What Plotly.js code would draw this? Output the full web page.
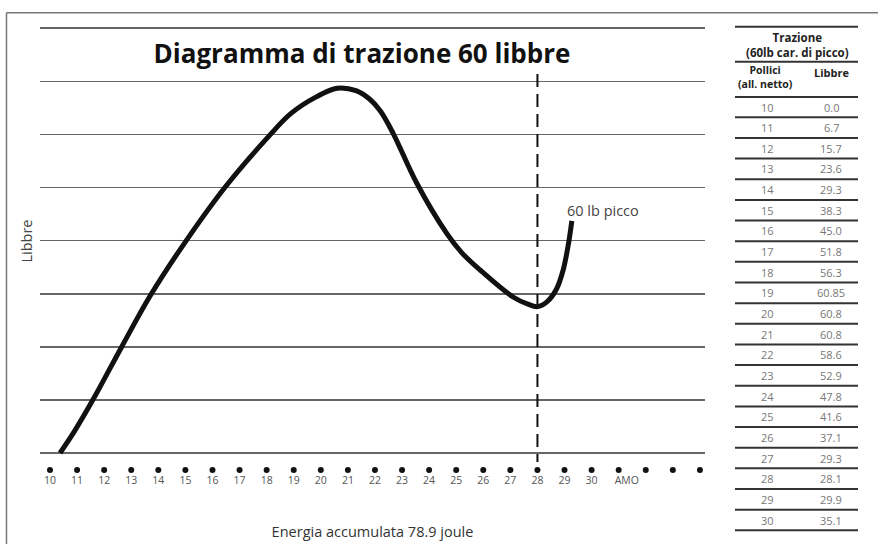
<!DOCTYPE html>
<html>
<head>
<meta charset="utf-8">
<script src="https://cdn.plot.ly/plotly-3.0.1.min.js"></script>
<style>html,body{margin:0;padding:0;background:#fff;}#chart{width:878px;height:544px;}</style>
</head>
<body>
<div id="chart"></div>
<script>
// ---------------- DATA ----------------
const chartTitle = 'Diagramma di trazione 60 libbre';
const yTitle = 'Libbre';
const xTitle = 'Energia accumulata 78.9 joule';
const peakLabel = '60 lb picco';
const drawLength = 28;            // pollici (dashed marker)
const peakLabelInch = 29.02;
const peakLabelLibbre = 40.4;

// curve as drawn (pollici -> libbre)
const curveInches = [10.37, 10.9, 11.59, 12.66, 13.7, 15.0, 16.5, 18.1, 18.9, 19.85, 20.6, 21.3, 21.8, 22.2, 22.68, 23.54, 24.65, 25.2, 25.88, 27.1, 27.65, 28.0, 28.35, 28.7, 28.95, 29.15, 29.27];
const curveLibbre = [0.0, 3.6, 8.9, 17.8, 26.2, 35.2, 44.5, 52.9, 56.6, 59.4, 60.8, 60.4, 59.0, 57.0, 53.2, 45.0, 36.6, 33.4, 30.5, 26.0, 24.8, 24.4, 25.2, 27.3, 30.5, 35.0, 38.7];

// dotted scale under the chart
const axisDots = [10,11,12,13,14,15,16,17,18,19,20,21,22,23,24,25,26,27,28,29,30,31,32,33,34];
const tickLabels = ['10','11','12','13','14','15','16','17','18','19','20','21','22','23','24','25','26','27','28','29','30','AMO'];

// table
const tableTitle = 'Trazione';
const tableSubtitle = '(60lb car. di picco)';
const colPollici = 'Pollici';
const colPolliciSub = '(all. netto)';
const colLibbre = 'Libbre';
const tablePollici = ['10','11','12','13','14','15','16','17','18','19','20','21','22','23','24','25','26','27','28','29','30'];
const tableLibbre = ['0.0','6.7','15.7','23.6','29.3','38.3','45.0','51.8','56.3','60.85','60.8','60.8','58.6','52.9','47.8','41.6','37.1','29.3','28.1','29.9','35.1'];

// ---------------- LAYOUT HELPERS ----------------
const W = 878, H = 544;
const L = 40, R = 705, T = 10, B = 472;
const PW = R - L, PH = B - T;
const BASE_PY = 453, TOP_GRID_PY = 28.2, PX_PER_LB = 6.0;
const PX_PER_INCH = 27.08, X10_PX = 50;
const px2x = px => (px - L) / PW;
const py2y = py => (B - py) / PH;
const pyToLb = py => (BASE_PY - py) / PX_PER_LB;
const pxToInch = px => 10 + (px - X10_PX) / PX_PER_INCH;

const FONT = '"Open Sans", Lato, sans-serif';

// ---------------- TRACES ----------------
const curve = {
  type: 'scatter', mode: 'lines',
  x: curveInches, y: curveLibbre,
  line: {color: '#111', width: 5, shape: 'spline', smoothing: 1.0},
  hoverinfo: 'x+y', showlegend: false
};
const dots = {
  type: 'scatter', mode: 'markers',
  x: axisDots, y: axisDots.map(() => pyToLb(470)),
  marker: {color: '#111', size: 6},
  cliponaxis: false, hoverinfo: 'skip', showlegend: false
};

// ---------------- SHAPES / ANNOTATIONS ----------------
const shapes = [];
const annotations = [];
// frame
shapes.push({type:'line', xref:'paper', yref:'paper', x0:px2x(6.5), x1:px2x(878), y0:py2y(12.7), y1:py2y(12.7), line:{color:'#777', width:1.5}});
shapes.push({type:'line', xref:'paper', yref:'paper', x0:px2x(6.5), x1:px2x(6.5), y0:py2y(12.7), y1:py2y(544), line:{color:'#777', width:1.5}});
// dashed draw-length marker
shapes.push({type:'line', xref:'x', yref:'paper', x0:drawLength, x1:drawLength, y0:py2y(74), y1:py2y(462), line:{color:'#111', width:2, dash:'13px,7px'}});

annotations.push({xref:'x', yref:'y', x:peakLabelInch, y:peakLabelLibbre, text:peakLabel, showarrow:false, xanchor:'left', yanchor:'middle', font:{family:FONT, size:14.5, color:'#444'}});

// table
const TX0 = 735, TX1 = 858, TCX = 797, COL1 = 765, COL2 = 831;
const tLine = py => ({type:'line', xref:'paper', yref:'paper', x0:px2x(TX0), x1:px2x(TX1), y0:py2y(py), y1:py2y(py), line:{color:'#333', width:2}});
const tText = (px, py, text, opts) => Object.assign({xref:'paper', yref:'paper', x:px2x(px), y:py2y(py), text:text, showarrow:false, xanchor:'center', yanchor:'middle', borderpad:0, font:{family:FONT, size:10.5, color:'#222'}}, opts || {});
shapes.push(tLine(26.7));
annotations.push(tText(TCX, 45.5, '<b>' + tableTitle + '<br>' + tableSubtitle + '</b>', {align:'center', font:{family:FONT, size:11.5, color:'#222'}}));
shapes.push(tLine(61.7));
annotations.push(tText(COL1, 77, '<b>' + colPollici + '<br>' + colPolliciSub + '</b>', {align:'center', font:{family:FONT, size:10.5, color:'#222'}}));
annotations.push(tText(COL2, 72, '<b>' + colLibbre + '</b>', {font:{family:FONT, size:11, color:'#222'}}));
shapes.push(tLine(97));
const ROW0 = 107, ROWH = 20.65;
tablePollici.forEach((p, i) => {
  const cy = ROW0 + i * ROWH;
  annotations.push(tText(COL1 + 2, cy, p, {font:{family:FONT, size:11, color:'#777'}}));
  annotations.push(tText(COL2, cy, tableLibbre[i], {font:{family:FONT, size:11, color:'#777'}}));
  shapes.push(tLine(cy + 10.3));
});

// ---------------- LAYOUT ----------------
const tickvals = tickLabels.map((t, i) => t === 'AMO' ? 10 + i + 0.3 : 10 + i);
const layout = {
  width: W, height: H,
  margin: {l: L, r: W - R, t: T, b: H - B, pad: 0},
  paper_bgcolor: '#fff', plot_bgcolor: '#fff',
  showlegend: false,
  font: {family: FONT, color: '#333'},
  title: {
    text: '<b>' + chartTitle + '</b>',
    font: {family: FONT, size: 26, color: '#111'},
    x: 362 / W, xanchor: 'center', xref: 'container',
    y: 1 - 54 / H, yanchor: 'middle', yref: 'container'
  },
  xaxis: {
    range: [pxToInch(L), pxToInch(R)],
    showgrid: false, zeroline: false, showline: false,
    ticks: '', tickmode: 'array', tickvals: tickvals, ticktext: tickLabels,
    tickfont: {family: FONT, size: 10.5, color: '#555'},
    title: {text: xTitle, font: {family: FONT, size: 14.5, color: '#333'}, standoff: 41},
    fixedrange: true
  },
  yaxis: {
    range: [pyToLb(B), pyToLb(T)],
    tick0: 0, dtick: (BASE_PY - TOP_GRID_PY) / PX_PER_LB / 8,
    showgrid: true, gridcolor: '#666', gridwidth: 1.6,
    zeroline: false, showline: false, showticklabels: false, ticks: '',
    title: {text: yTitle, font: {family: FONT, size: 14.5, color: '#444'}, standoff: 2},
    fixedrange: true
  },
  shapes: shapes,
  annotations: annotations
};

Plotly.newPlot('chart', [curve, dots], layout, {staticPlot: true, displayModeBar: false});
</script>
</body>
</html>
